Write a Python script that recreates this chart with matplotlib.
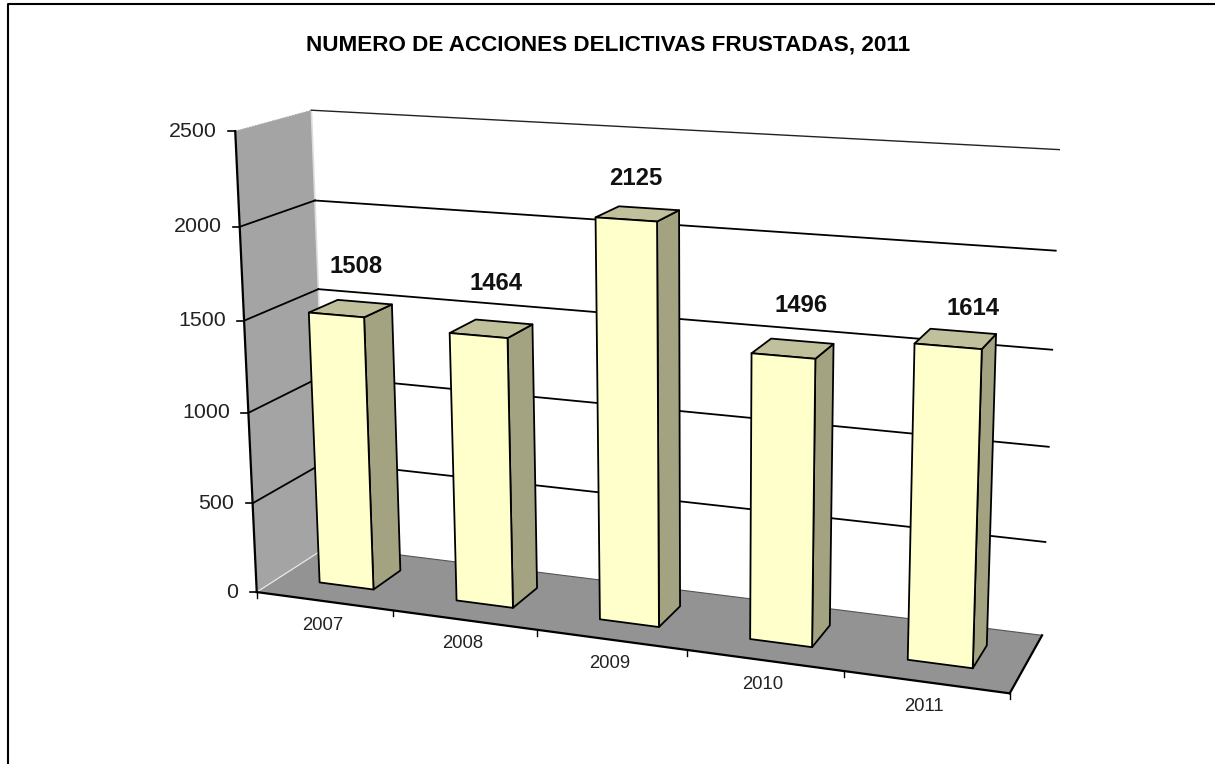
import numpy as np
import matplotlib
matplotlib.use('Agg')
from matplotlib import pyplot as plt
from matplotlib.patches import Polygon

years = ['2007', '2008', '2009', '2010', '2011']
acciones = [1508, 1464, 2125, 1496, 1614]
y_ticks = [0, 500, 1000, 1500, 2000, 2500]
titulo = 'NUMERO DE ACCIONES DELICTIVAS FRUSTADAS, 2011'

plt.rcParams['font.family'] = ['Liberation Sans', 'DejaVu Sans']

W, H = 1215, 764
fig = plt.figure(figsize=(W / 100, H / 100), dpi=100)
ax = fig.add_axes([0, 0, 1, 1])
ax.set_xlim(0, W)
ax.set_ylim(H, 0)
ax.axis('off')

# camera of the excel 3d box: (u along x, v depth, value) -> pixels
box = [
    ((0, 0, 0), (256.7, 591.7)),
    ((0, 0, 2500), (235, 131.5)),
    ((0, 1, 0), (328, 546)),
    ((0, 1, 2500), (311.7, 109.3)),
    ((1, 1, 0), (1041.7, 635)),
    ((1, 1, 2500), (1058.3, 149)),
    ((1, 0, 0), (1010, 693.3)),
    ((0, 1, 1500), (318.7, 290)),
    ((1, 1, 1500), (1053.3, 350.7)),
]
A, b = [], []
for (u, v, z), (px, py) in box:
    z = z / 2500
    A.append([u, v, z, 1, 0, 0, 0, 0, -px * u, -px * v, -px * z])
    b.append(px)
    A.append([0, 0, 0, 0, u, v, z, 1, -py * u, -py * v, -py * z])
    b.append(py)
cam = np.linalg.lstsq(np.array(A, float), np.array(b, float), rcond=None)[0]
cam = np.append(cam, 1).reshape(3, 4)


def pr(u, v, val):
    x, y, w = cam @ np.array([u, v, val / 2500, 1])
    return x / w, y / w


def face(pts, color, edge='black', lw=1.3, z=2):
    ax.add_patch(Polygon([pr(*p) for p in pts], closed=True, facecolor=color,
                         edgecolor=edge, linewidth=lw, zorder=z, joinstyle='round'))


def seg(p, q, color='black', lw=1.3, z=1, **kw):
    a, c = pr(*p), pr(*q)
    ax.plot([a[0], c[0]], [a[1], c[1]], color=color, lw=lw, zorder=z, **kw)


# frame: only left and top are inside the crop
ax.plot([7.5, 7.5, W], [H, 4, 4], color='black', lw=1.5, zorder=0)

top = y_ticks[-1]
face([(0, 0, 0), (0, 1, 0), (0, 1, top), (0, 0, top)], '#a4a4a4', edge='none', lw=0)
face([(0, 0, 0), (1, 0, 0), (1, 1, 0), (0, 1, 0)], '#939393', edge='none', lw=0)

seg((0, 0, 0), (0, 1, 0), color='#e8e8e8', lw=0.9, z=2.5)
seg((0, 1, 0), (1, 1, 0), color='#555555', lw=0.8, z=2.5)
seg((0, 1, 0), (0, 1, top), color='#dddddd', lw=1.2, z=2.5)
seg((0, 0, top), (0, 1, top), color='#b0b0b0', lw=0.8, ls=':', z=2.5)

for t in y_ticks[1:]:
    if t < top:
        seg((0, 0, t), (0, 1, t), z=2.6)
    seg((0, 1, t), (1, 1, t), lw=1.3 if t < top else 1.0,
        color='black' if t < top else '#222222', z=2.6)

seg((0, 0, 0), (0, 0, top), lw=1.6, z=3)
seg((0, 0, 0), (1, 0, 0), lw=1.6, z=3)
seg((1, 0, 0), (1, 1, 0), lw=1.6, z=3)

for t in y_ticks:
    x, y = pr(0, 0, t)
    ax.plot([x - 7, x], [y, y], color='black', lw=1.2, zorder=3)
    ax.text(x - 18.3, y, str(t), ha='right', va='center', fontsize=15.4, color='#222222')

n = len(years)
for i in range(n + 1):
    x, y = pr(i / n, 0, 0)
    ax.plot([x, x], [y, y + 6], color='black', lw=1.0, zorder=3)

half = 0.2
v0, v1 = 0.31, 0.71
# label placement in the original is not tied to the bar tops
label_dx = [-3, -4, -10, 0, 9]
label_dy = [-43, -46, -36, -44, -31]
for i, (yr, val) in enumerate(zip(years, acciones)):
    c = (i + 0.5) / n + 0.00065 * i
    l, r = c - half / n, c + half / n
    face([(r, v0, 0), (r, v1, 0), (r, v1, val), (r, v0, val)], '#a3a382', z=4 + i)
    face([(l, v0, val), (r, v0, val), (r, v1, val), (l, v1, val)], '#c0c09c', z=4 + i)
    face([(l, v0, 0), (r, v0, 0), (r, v0, val), (l, v0, val)], '#ffffcc', z=4 + i)

    x, y = pr((i + 0.5) / n + 0.013, 0.5, val)
    ax.text(x + label_dx[i], y + label_dy[i], str(val), ha='center', va='center',
            fontsize=17.2, fontweight='bold', color='#111111', zorder=20)
    x, y = pr((i + 0.5) / n, 0, 0)
    ax.text(x - 1.5, y + 24, yr, ha='center', va='center', fontsize=13.3, color='#222222')

ax.text(608.5, 45, titulo, ha='center', va='center', fontsize=16.2, fontweight='bold', color='black')

fig.savefig('out.png', dpi=100)
